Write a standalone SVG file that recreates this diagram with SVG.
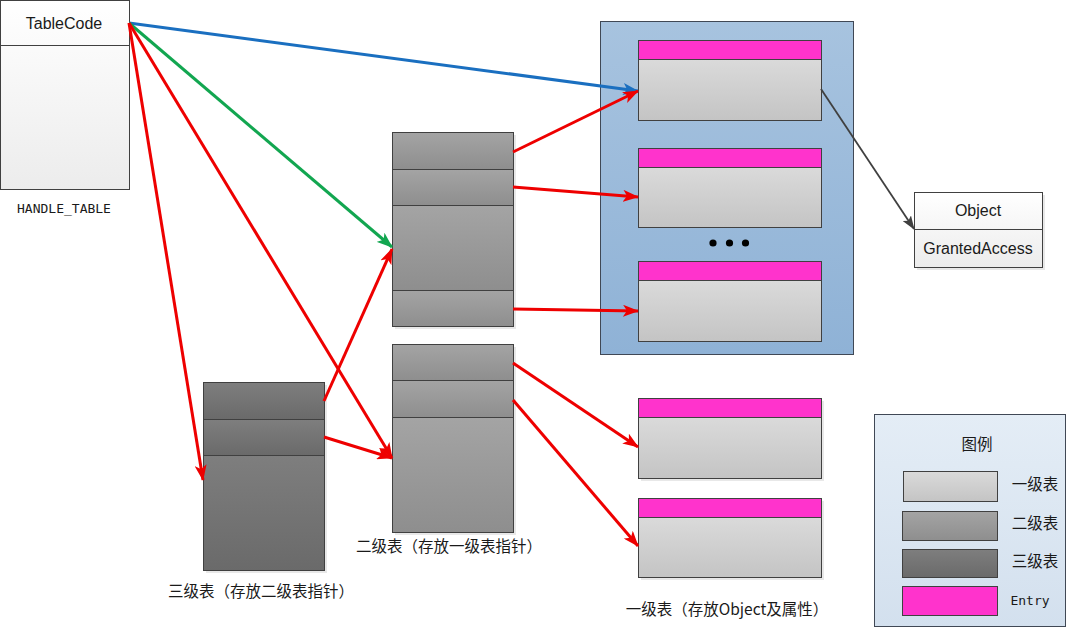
<svg xmlns="http://www.w3.org/2000/svg" width="1068" height="629" viewBox="0 0 1068 629">
<defs>
<linearGradient id="gWhite" x1="0" y1="0" x2="0" y2="1"><stop offset="0" stop-color="#ffffff"/><stop offset="1" stop-color="#ececec"/></linearGradient>
<linearGradient id="gLight" x1="0" y1="0" x2="0" y2="1"><stop offset="0" stop-color="#dadada"/><stop offset="1" stop-color="#c4c4c4"/></linearGradient>
<linearGradient id="gMid" x1="0" y1="0" x2="0" y2="1"><stop offset="0" stop-color="#a4a4a4"/><stop offset="1" stop-color="#8e8e8e"/></linearGradient>
<linearGradient id="gDark" x1="0" y1="0" x2="0" y2="1"><stop offset="0" stop-color="#7e7e7e"/><stop offset="1" stop-color="#6a6a6a"/></linearGradient>
<linearGradient id="gBlue" x1="0" y1="0" x2="0" y2="1"><stop offset="0" stop-color="#a7c3df"/><stop offset="1" stop-color="#8fb2d6"/></linearGradient>
<linearGradient id="gLegend" x1="0" y1="0" x2="0" y2="1"><stop offset="0" stop-color="#e4edf6"/><stop offset="1" stop-color="#d3e0ee"/></linearGradient>
<marker id="aRed" markerUnits="userSpaceOnUse" viewBox="0 0 16 12" markerWidth="16" markerHeight="12" refX="15" refY="6" orient="auto"><path d="M0,0 L16,6 L0,12 L4,6 z" fill="#ee0000"/></marker>
<marker id="aBlue" markerUnits="userSpaceOnUse" viewBox="0 0 16 12" markerWidth="16" markerHeight="12" refX="15" refY="6" orient="auto"><path d="M0,0 L16,6 L0,12 L4,6 z" fill="#1a6fc0"/></marker>
<marker id="aGreen" markerUnits="userSpaceOnUse" viewBox="0 0 16 12" markerWidth="16" markerHeight="12" refX="15" refY="6" orient="auto"><path d="M0,0 L16,6 L0,12 L4,6 z" fill="#12a650"/></marker>
<marker id="aGray" markerUnits="userSpaceOnUse" viewBox="0 0 14 10" markerWidth="14" markerHeight="10" refX="13" refY="5" orient="auto"><path d="M0,0 L14,5 L0,10 L3,5 z" fill="#404040"/></marker>
</defs>
<style>
.box{stroke:#404040;stroke-width:1}
.div{stroke:#404040;stroke-width:1}
.sh{fill:#d8d8d8;opacity:0.6}
.pink{fill:#ff33cc;stroke:#404040;stroke-width:1}
.light{fill:url(#gLight)}
.mid{fill:url(#gMid)}
.dark{fill:url(#gDark)}
.lat{font-family:"Liberation Sans",Arial,sans-serif;font-size:16px;fill:#1a1a1a}
.mono{font-family:"DejaVu Sans Mono","Liberation Mono",monospace;font-size:13px;fill:#1a1a1a}
.cjk{font-family:"Noto Sans CJK SC","Noto Sans",sans-serif;font-size:15.5px;fill:#1a1a1a}
.red{stroke:#ee0000;stroke-width:3;fill:none;marker-end:url(#aRed)}
.blue{stroke:#1a6fc0;stroke-width:3;fill:none;marker-end:url(#aBlue)}
.green{stroke:#12a650;stroke-width:3;fill:none;marker-end:url(#aGreen)}
.gray{stroke:#404040;stroke-width:1.8;fill:none;marker-end:url(#aGray)}
</style>
<rect width="1068" height="629" fill="#ffffff"/>

<g id="handle_table">
<rect class="box" x="0.5" y="0.5" width="129" height="189" fill="url(#gWhite)"/>
<line class="div" x1="0.5" y1="45.5" x2="129.5" y2="45.5"/>
<text class="lat" x="64" y="29" text-anchor="middle">TableCode</text>
<text class="mono" x="64" y="213" text-anchor="middle">HANDLE_TABLE</text>
</g>

<g id="level1_container">
<rect x="600.5" y="21.5" width="253" height="333" fill="url(#gBlue)" stroke="#404855" stroke-width="1"/>
<g id="entry1">
<rect class="box light" x="638.5" y="59.5" width="183" height="61"/>
<rect class="pink" x="638.5" y="40.5" width="183" height="19"/>
</g>
<g id="entry2">
<rect class="box light" x="638.5" y="167.5" width="183" height="60"/>
<rect class="pink" x="638.5" y="148.5" width="183" height="19"/>
</g>
<g id="dots" fill="#000">
<circle cx="713" cy="243" r="3.6"/><circle cx="729.5" cy="243" r="3.6"/><circle cx="745.5" cy="243" r="3.6"/>
</g>
<g id="entry3">
<rect class="box light" x="638.5" y="280.5" width="183" height="61"/>
<rect class="pink" x="638.5" y="261.5" width="183" height="19"/>
</g>
</g>

<g id="object">
<rect x="917" y="195" width="128" height="75" class="sh"/>
<rect class="box" x="914.5" y="192.5" width="128" height="75" fill="url(#gWhite)"/>
<line class="div" x1="914.5" y1="229.5" x2="1042.5" y2="229.5"/>
<text class="lat" x="978" y="216" text-anchor="middle">Object</text>
<text class="lat" x="978" y="254" text-anchor="middle">GrantedAccess</text>
</g>

<g id="level2_table_a">
<rect x="395" y="135" width="121" height="194" class="sh"/>
<rect class="box mid" x="392.5" y="132.5" width="121" height="37"/>
<rect class="box mid" x="392.5" y="169.5" width="121" height="36"/>
<rect class="box mid" x="392.5" y="205.5" width="121" height="85"/>
<rect class="box mid" x="392.5" y="290.5" width="121" height="36"/>
</g>

<g id="level2_table_b">
<rect x="395" y="347" width="121" height="188" class="sh"/>
<rect class="box mid" x="392.5" y="344.5" width="121" height="36"/>
<rect class="box mid" x="392.5" y="380.5" width="121" height="37"/>
<rect class="box mid" x="392.5" y="417.5" width="121" height="115"/>
<text class="cjk" x="449" y="552" text-anchor="middle">二级表（存放一级表指针）</text>
</g>

<g id="level3_table">
<rect x="206" y="385" width="121" height="188" class="sh"/>
<rect class="box dark" x="203.5" y="382.5" width="121" height="37"/>
<rect class="box dark" x="203.5" y="419.5" width="121" height="36"/>
<rect class="box dark" x="203.5" y="455.5" width="121" height="115"/>
<text class="cjk" x="261" y="597" text-anchor="middle">三级表（存放二级表指针）</text>
</g>

<g id="entry4">
<rect x="641" y="401" width="183" height="80" class="sh"/>
<rect class="box light" x="638.5" y="417.5" width="183" height="61"/>
<rect class="pink" x="638.5" y="398.5" width="183" height="19"/>
</g>
<g id="entry5">
<rect x="641" y="501" width="183" height="79" class="sh"/>
<rect class="box light" x="638.5" y="517.5" width="183" height="60"/>
<rect class="pink" x="638.5" y="498.5" width="183" height="19"/>
<text class="cjk" x="727" y="615" text-anchor="middle">一级表（存放Object及属性）</text>
</g>

<g id="legend">
<rect x="874.5" y="414.5" width="191" height="212" fill="url(#gLegend)" stroke="#404855" stroke-width="1"/>
<text class="cjk" x="977" y="450" text-anchor="middle">图例</text>
<rect class="box light" x="903.5" y="471.5" width="94" height="30"/>
<text class="cjk" x="1035" y="490" text-anchor="middle">一级表</text>
<rect class="box mid" x="902.5" y="511.5" width="95" height="29"/>
<text class="cjk" x="1035" y="529" text-anchor="middle">二级表</text>
<rect class="box dark" x="902.5" y="549.5" width="95" height="28"/>
<text class="cjk" x="1035" y="567" text-anchor="middle">三级表</text>
<rect class="pink" x="902.5" y="586.5" width="95" height="29"/>
<text class="mono" x="1030" y="605" text-anchor="middle">Entry</text>
</g>

<g id="connectors">
<line class="blue" x1="129" y1="23" x2="638" y2="91"/>
<line class="green" x1="129" y1="23" x2="392" y2="247"/>
<line class="red" x1="129" y1="23" x2="203" y2="480"/>
<line class="red" x1="129" y1="23" x2="392" y2="458"/>
<line class="red" x1="324" y1="401" x2="392" y2="249"/>
<line class="red" x1="324" y1="437" x2="392" y2="458"/>
<line class="red" x1="513" y1="152" x2="638" y2="91"/>
<line class="red" x1="513" y1="187" x2="638" y2="197"/>
<line class="red" x1="513" y1="309" x2="638" y2="311"/>
<line class="red" x1="513" y1="363" x2="638" y2="447"/>
<line class="red" x1="513" y1="400" x2="638" y2="546"/>
<line class="gray" x1="821" y1="89" x2="914" y2="229"/>
</g>
</svg>
